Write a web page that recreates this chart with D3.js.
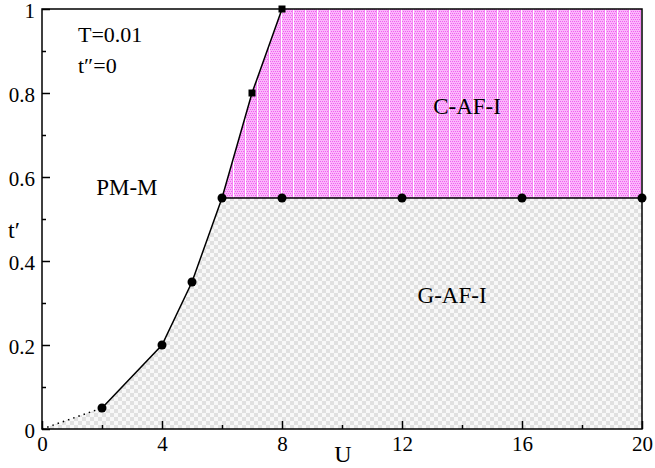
<!DOCTYPE html>
<html>
<head>
<meta charset="utf-8">
<script src="https://cdn.jsdelivr.net/npm/d3@7"></script>
<style>
  body { margin: 0; background: #fff; }
  svg text { font-family: "Liberation Serif", "Times New Roman", "DejaVu Serif", serif !important; }
</style>
</head>
<body>
<div id="chart"></div>
<script>
// DATA
var boundaryU = [2, 4, 5, 6];          // G-AF-I / PM-M boundary (circles)
var boundaryT = [0.05, 0.2, 0.35, 0.55];
var upperU = [6, 7, 8];                // C-AF-I / PM-M boundary
var upperT = [0.55, 0.8, 1];
var squareU = [7, 8];                  // square markers
var squareT = [0.8, 1];
var flatU = [6, 8, 12, 16, 20];        // C-AF-I / G-AF-I boundary at t'=0.55
var flatT = 0.55;
var xTicks = [0, 4, 8, 12, 16, 20];
var yTicks = [0, 0.2, 0.4, 0.6, 0.8, 1];
var yTickLabels = ["0", "0.2", "0.4", "0.6", "0.8", "1"];

var width = 655, height = 468;
var margin = { top: 9, right: 13, bottom: 39, left: 42 };
var w = width - margin.left - margin.right,
  h = height - margin.top - margin.bottom;

var svg = d3.select("#chart").append("svg")
  .attr("width", width).attr("height", height);

// PATTERNS
var defs = svg.append("defs");
var grayPat = defs.append("pattern").attr("id", "grayPat")
  .attr("patternUnits", "userSpaceOnUse").attr("width", 8).attr("height", 8);
grayPat.append("rect").attr("width", 8).attr("height", 8).attr("fill", "#f8f8f8");
grayPat.append("rect").attr("width", 4).attr("height", 4).attr("fill", "#e0e0e0");
grayPat.append("rect").attr("x", 4).attr("y", 4).attr("width", 4).attr("height", 4).attr("fill", "#e0e0e0");

var pinkPat = defs.append("pattern").attr("id", "pinkPat")
  .attr("patternUnits", "userSpaceOnUse").attr("width", 12).attr("height", 4);
pinkPat.append("rect").attr("width", 12).attr("height", 4).attr("fill", "#fbb6fb");
[0, 2, 4, 6, 8].forEach(function (x) {
  pinkPat.append("rect").attr("x", x).attr("y", 0).attr("width", 1).attr("height", 1).attr("fill", "#f060f0");
  pinkPat.append("rect").attr("x", x + 1).attr("y", 2).attr("width", 1).attr("height", 1).attr("fill", "#f060f0");
});
pinkPat.append("rect").attr("x", 10).attr("width", 1).attr("height", 4).attr("fill", "#f488f4");
pinkPat.append("rect").attr("x", 11).attr("width", 1).attr("height", 4).attr("fill", "#ffffff");

var g = svg.append("g")
  .attr("transform", "translate(" + margin.left + "," + margin.top + ")");

// SCALES
var x = d3.scaleLinear().domain([0, 20]).range([0, w]);
var y = d3.scaleLinear().domain([0, 1]).range([h, 0]);

// REGIONS
var grayPts = [[0, 0]].concat(boundaryU.map((u, i) => [u, boundaryT[i]]))
  .concat([[20, flatT], [20, 0]]);
var pinkPts = upperU.map((u, i) => [u, upperT[i]]).concat([[20, 1], [20, flatT]]);
var area = d3.line().x((d) => x(d[0])).y((d) => y(d[1]));
g.append("path").attr("d", area(grayPts) + "Z").attr("fill", "url(#grayPat)");
g.append("path").attr("d", area(pinkPts) + "Z").attr("fill", "url(#pinkPat)");

// LINES
g.append("path")
  .attr("d", area([[0, 0], [boundaryU[0], boundaryT[0]]]))
  .attr("fill", "none").attr("stroke", "#000").attr("stroke-width", 1.5)
  .attr("stroke-dasharray", "1.5,4");
g.append("path")
  .attr("d", area(boundaryU.map((u, i) => [u, boundaryT[i]]).concat(upperU.slice(1).map((u, i) => [u, upperT[i + 1]]))))
  .attr("fill", "none").attr("stroke", "#000").attr("stroke-width", 1.5);
g.append("path")
  .attr("d", area([[flatU[0], flatT], [flatU[flatU.length - 1], flatT]]))
  .attr("fill", "none").attr("stroke", "#000").attr("stroke-width", 1.5);

// FRAME
g.append("rect").attr("width", w).attr("height", h)
  .attr("fill", "none").attr("stroke", "#000").attr("stroke-width", 1.5);

// AXES (ticks inward)
var xAxis = d3.axisBottom(x).tickValues(xTicks).tickSize(-8).tickPadding(7);
var xMinor = d3.axisBottom(x).tickValues(d3.range(2, 20, 4)).tickSize(-4).tickFormat("");
var yAxis = d3.axisLeft(y).tickValues(yTicks).tickSize(-8).tickPadding(7)
  .tickFormat((d, i) => yTickLabels[i]);
var yMinor = d3.axisLeft(y).tickValues([0.1, 0.3, 0.5, 0.7, 0.9]).tickSize(-4).tickFormat("");

[xAxis, xMinor].forEach(function (a) {
  g.append("g").attr("class", "axis").attr("transform", "translate(0," + h + ")").call(a);
});
[yAxis, yMinor].forEach(function (a) {
  g.append("g").attr("class", "axis yaxis").call(a);
});
g.selectAll(".axis").attr("font-family", null).attr("font-size", null);
g.selectAll(".axis .domain").remove();
g.selectAll(".axis line").attr("stroke", "#000").attr("stroke-width", 1.5);
g.selectAll(".axis text")
  .style("font-size", "21px").attr("fill", "#000");
g.selectAll(".yaxis text").attr("dy", "0.42em");

// MARKERS
g.selectAll(".dot")
  .data(boundaryU.map((u, i) => [u, boundaryT[i]]).concat(flatU.slice(1).map((u) => [u, flatT])))
  .enter().append("circle").attr("class", "dot")
  .attr("cx", (d) => x(d[0])).attr("cy", (d) => y(d[1]))
  .attr("r", 4.5).attr("fill", "#000");
g.selectAll(".sq")
  .data(squareU.map((u, i) => [u, squareT[i]]))
  .enter().append("rect").attr("class", "sq")
  .attr("x", (d) => x(d[0]) - 3.5).attr("y", (d) => y(d[1]) - 3.5)
  .attr("width", 7).attr("height", 7).attr("fill", "#000");

// LABELS
var labels = [
  { t: "T=0.01", u: 1.2, v: 0.921, a: "start", s: 22 },
  { t: "t\u2033=0", u: 1.2, v: 0.848, a: "start", s: 22 },
  { t: "PM-M", u: 2.83, v: 0.557, a: "middle", s: 23 },
  { t: "C-AF-I", u: 14.17, v: 0.75, a: "middle", s: 23 },
  { t: "G-AF-I", u: 13.67, v: 0.3, a: "middle", s: 23 }
];
g.selectAll(".lab").data(labels).enter().append("text")
  .attr("x", (d) => x(d.u)).attr("y", (d) => y(d.v))
  .attr("text-anchor", (d) => d.a)
  .style("font-size", (d) => d.s + "px").text((d) => d.t);

svg.append("text").attr("x", 343).attr("y", 462).attr("text-anchor", "middle")
  .style("font-size", "24px").text("U");
svg.append("text").attr("x", 14).attr("y", 238).attr("text-anchor", "middle")
  .style("font-size", "24px").text("t\u2032");
</script>
</body>
</html>
